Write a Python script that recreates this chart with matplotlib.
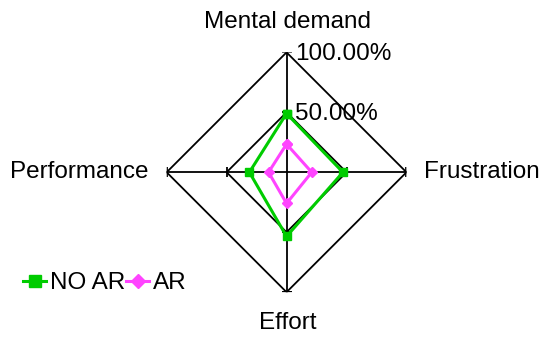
import numpy as np
import matplotlib.pyplot as plt

plt.rcParams['font.family'] = ['Liberation Sans', 'DejaVu Sans']

categories = ['Mental demand', 'Frustration', 'Effort', 'Performance']
no_ar = [0.49, 0.47, 0.535, 0.31]
ar = [0.235, 0.21, 0.26, 0.15]
grid_levels = [0.5, 1.0]
grid_labels = ['50.00%', '100.00%']

green = '#00cc00'
magenta = '#ff44ff'

fig = plt.figure(figsize=(5.5, 3.42), dpi=100)
ax = fig.add_axes([0.303, 0.1453, 0.436, 0.702], projection='polar')
ax.set_theta_zero_location('N')
ax.set_theta_direction(-1)
ax.set_ylim(0, 1)
ax.grid(False)
ax.spines['polar'].set_visible(False)
ax.set_xticks([])
ax.set_yticks([])

theta = np.linspace(0, 2 * np.pi, len(categories), endpoint=False)
closed = np.append(theta, theta[0])

# diamond grid and spokes
for lvl in grid_levels:
    ax.plot(closed, [lvl] * len(closed), color='black', lw=1.3, zorder=1)
for i, t in enumerate(theta):
    ax.plot([t, t], [0, 1], color='black', lw=1.3, zorder=1)
    mk = '_' if i % 2 == 0 else '|'
    ax.plot([t, t], grid_levels, linestyle='none', marker=mk, ms=7,
            mew=1.3, color='black', zorder=1)

ax.plot(closed, no_ar + no_ar[:1], color=green, lw=2.2, marker='s', ms=6,
        label='NO AR', zorder=3, clip_on=False)
ax.plot(closed, ar + ar[:1], color=magenta, lw=2.2, marker='D', ms=5,
        label='AR', zorder=4, clip_on=False)

fs = 17.5
for lvl, lab in zip(grid_levels, grid_labels):
    ax.annotate(lab, xy=(0, lvl), xytext=(6, -1), textcoords='offset points',
                fontsize=fs, va='center', ha='left', zorder=5)

fig.text(287 / 550, 1 - 22 / 342, categories[0], fontsize=fs, ha='center', va='center')
fig.text(424 / 550, 1 - 172 / 342, categories[1], fontsize=fs, ha='left', va='center')
fig.text(288 / 550, 1 - 323 / 342, categories[2], fontsize=fs, ha='center', va='center')
fig.text(148 / 550, 1 - 172 / 342, categories[3], fontsize=fs, ha='right', va='center')

fig.legend(loc='center left', bbox_to_anchor=(23 / 550, 1 - 283 / 342), ncol=2,
           frameon=False, fontsize=fs, handlelength=0.95, handletextpad=0.15,
           columnspacing=0.05, borderaxespad=0, borderpad=0, markerscale=1.4)

fig.savefig('out.png', dpi=100)
